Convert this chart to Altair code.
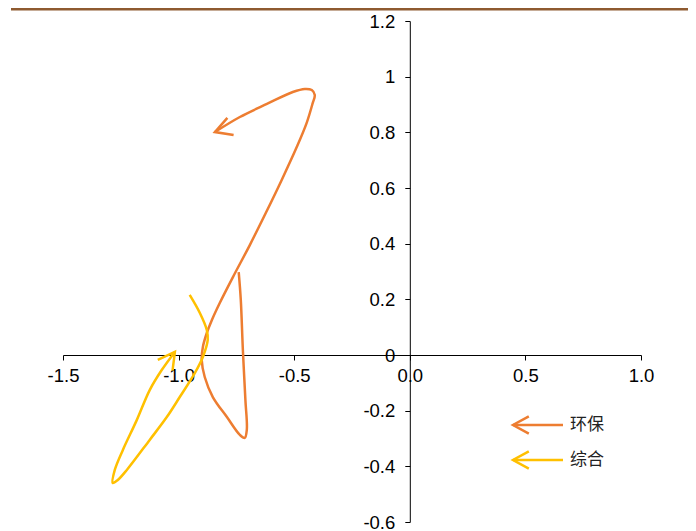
import altair as alt
import pandas as pd

series_names = ["环保", "综合"]
series_colors = ["#ED7D31", "#FFC000"]

huanbao_x = [-0.740, -0.731, -0.722, -0.711, -0.705, -0.714, -0.735, -0.791, -0.852, -0.887,
             -0.900, -0.895, -0.878, -0.856, -0.822, -0.765, -0.692, -0.623, -0.554, -0.489,
             -0.446, -0.420, -0.411, -0.424, -0.454, -0.506, -0.618, -0.735, -0.843]
huanbao_y = [0.298, 0.198, 0.018, -0.162, -0.269, -0.298, -0.287, -0.223, -0.151, -0.079,
             -0.018, 0.029, 0.079, 0.126, 0.187, 0.280, 0.395, 0.510, 0.629, 0.747,
             0.834, 0.905, 0.934, 0.952, 0.956, 0.945, 0.902, 0.855, 0.801]

zonghe_x = [-0.952, -0.908, -0.878, -0.874, -0.895, -0.930, -0.995, -1.051, -1.125, -1.224,
            -1.263, -1.285, -1.276, -1.241, -1.181, -1.125, -1.073, -1.016]
zonghe_y = [0.216, 0.151, 0.090, 0.054, -0.007, -0.065, -0.151, -0.223, -0.305, -0.413,
            -0.449, -0.460, -0.413, -0.341, -0.234, -0.126, -0.054, 0.011]

arrow_angles = [340, 126]

x_ticks = [-1.5, -1.0, -0.5, 0.0, 0.5, 1.0]
y_ticks = [-0.6, -0.4, -0.2, 0.0, 0.2, 0.4, 0.6, 0.8, 1.0, 1.2]

W, H = 578, 501
X_DOM = [-1.5, 1.0]
Y_DOM = [-0.6, 1.2]

rows = []
for name, xs, ys in [(series_names[0], huanbao_x, huanbao_y), (series_names[1], zonghe_x, zonghe_y)]:
    for i, (x, y) in enumerate(zip(xs, ys)):
        rows.append({"series": name, "i": i, "x": x, "y": y})
df = pd.DataFrame(rows)

tips = pd.DataFrame({
    "series": series_names,
    "x": [huanbao_x[-1], zonghe_x[-1]],
    "y": [huanbao_y[-1], zonghe_y[-1]],
    "angle": arrow_angles,
})

ARROW = "M 1 -0.55 L 0 0 L 1 0.55"
FONT = "Liberation Sans"

color = alt.Color("series:N", scale=alt.Scale(domain=series_names, range=series_colors), legend=None)

x_off = -(0 - X_DOM[0]) / (X_DOM[1] - X_DOM[0]) * W
y_off = -(0 - Y_DOM[0]) / (Y_DOM[1] - Y_DOM[0]) * H

xscale = alt.Scale(domain=X_DOM, nice=False, zero=False)
yscale = alt.Scale(domain=Y_DOM, nice=False, zero=False)

xaxis = alt.Axis(orient="bottom", offset=y_off, values=x_ticks,
                 labelExpr="replace(format(datum.value, '.1f'), '\u2212', '-')",
                 grid=False, title=None, tickSize=5, labelPadding=6,
                 labelFont=FONT, labelFontSize=18.5, labelColor="black",
                 domainColor="black", tickColor="black", labelFlush=False, labelOverlap=False)
yaxis = alt.Axis(orient="left", offset=x_off, values=y_ticks,
                 labelExpr="replace(format(datum.value, '.1~f'), '\u2212', '-')",
                 grid=False, title=None, tickSize=5, labelPadding=10,
                 labelFont=FONT, labelFontSize=18.5, labelColor="black",
                 domainColor="black", tickColor="black", labelFlush=False, labelOverlap=False)

lines = alt.Chart(df).mark_line(strokeWidth=2.5, interpolate="catmull-rom").encode(
    x=alt.X("x:Q", scale=xscale, axis=xaxis),
    y=alt.Y("y:Q", scale=yscale, axis=yaxis),
    color=color,
    order="i:Q",
    detail="series:N",
)

heads = alt.Chart(tips).mark_point(shape=ARROW, filled=False, strokeWidth=2.5, size=1100, opacity=1).encode(
    x=alt.X("x:Q", scale=xscale),
    y=alt.Y("y:Q", scale=yscale),
    angle=alt.Angle("angle:Q", scale=None),
    color=color,
)

top_rule = alt.Chart(pd.DataFrame({"a": [0]})).mark_rule(color="#8E5A30", strokeWidth=3).encode(
    x=alt.value(-52), x2=alt.value(630), y=alt.value(-12)
)

legend_layers = []
legend_y = [404, 439]
for name, col, ly in zip(series_names, series_colors, legend_y):
    one = pd.DataFrame({"series": [name]})
    legend_layers.append(alt.Chart(one).mark_rule(color=col, strokeWidth=2.5).encode(
        x=alt.value(450), x2=alt.value(500), y=alt.value(ly)))
    legend_layers.append(alt.Chart(one).mark_point(shape=ARROW, filled=False, strokeWidth=2.5,
                                                   size=1000, opacity=1, color=col).encode(
        x=alt.value(450), y=alt.value(ly)))
    legend_layers.append(alt.Chart(one).mark_text(align="left", baseline="middle",
                                                  font="Noto Sans CJK SC", fontSize=17,
                                                  color="#222222").encode(
        x=alt.value(507), y=alt.value(ly), text="series:N"))

chart = alt.layer(top_rule, lines, heads, *legend_layers).properties(
    width=W, height=H,
    autosize=alt.AutoSizeParams(type="none"),
    padding={"left": 55, "top": 13, "right": 47, "bottom": 10},
).configure_view(stroke=None)

chart.save("out.html", embed_options={"renderer": "svg", "actions": False})
